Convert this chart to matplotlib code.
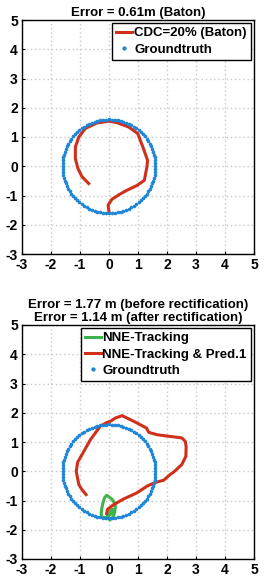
import numpy as np
import matplotlib
matplotlib.use("Agg")
import matplotlib.pyplot as plt

plt.rcParams['font.family'] = ['Liberation Sans', 'DejaVu Sans']
plt.rcParams['font.weight'] = 'bold'
plt.rcParams['axes.unicode_minus'] = False

# Ground truth circle
gt_radius = 1.6
gt_n = 100

# Top panel: CDC=20% (Baton)
baton_x = [0.0, -0.03, 0.1, 0.35, 0.62, 0.96, 1.22, 1.31, 1.33, 1.19, 0.99, 0.68, 0.28, 0.0,
           -0.41, -0.82, -1.04, -1.16, -1.16, -1.07, -0.93, -0.7]
baton_y = [-1.56, -1.33, -1.13, -0.97, -0.82, -0.66, -0.48, 0.0, 0.2, 0.6, 1.12, 1.34, 1.49, 1.54,
           1.48, 1.29, 1.0, 0.66, 0.26, -0.08, -0.36, -0.59]

# Bottom panel: NNE-Tracking & Pred.1
pred_x = [-0.08, -0.05, 0.15, 0.5, 0.96, 1.31, 1.6, 1.88, 2.11, 2.23, 2.51, 2.65, 2.66, 2.63, 2.51,
          2.11, 1.65, 1.37, 1.29, 0.85, 0.45, 0.22, 0.05, -0.07, -0.3, -0.64, -0.93, -1.08, -1.13,
          -1.04, -0.93, -0.79]
pred_y = [-1.44, -1.3, -1.15, -0.95, -0.74, -0.51, -0.38, -0.31, -0.11, -0.03, 0.23, 0.51, 0.85, 1.02,
          1.14, 1.19, 1.25, 1.33, 1.48, 1.71, 1.9, 1.82, 1.71, 1.67, 1.54, 1.08, 0.57, 0.31, 0.0,
          -0.46, -0.63, -0.8]

# Bottom panel: NNE-Tracking
nne_x = [0.0, 0.03, 0.15, 0.2, 0.22, 0.2, 0.1, -0.08, -0.15, -0.2, -0.25, -0.27, -0.25, -0.1,
         0.0, 0.05, 0.12, 0.08, -0.05]
nne_y = [-1.62, -1.67, -1.55, -1.39, -1.2, -1.1, -0.95, -0.82, -0.9, -1.05, -1.27, -1.45, -1.56, -1.6,
         -1.5, -1.35, -1.3, -1.45, -1.55]

ticks = [-3, -2, -1, 0, 1, 2, 3, 4, 5]

red = '#D0301A'
green = '#3CB44B'
blue = '#1F86D8'

W, H = 265, 585
fig = plt.figure(figsize=(W / 100, H / 100), dpi=100)
TFS = 10      # tick labels
LFS = 9.5     # legend
HFS = 9.5     # titles

def style(ax):
    ax.set_xlim(-3, 5)
    ax.set_ylim(-3, 5)
    ax.set_xticks(ticks)
    ax.set_yticks(ticks)
    ax.grid(True, linestyle=(0, (1, 2)), color='#C8C8C8', linewidth=1.0)
    ax.set_axisbelow(True)
    ax.tick_params(direction='in', labelsize=TFS, length=2, width=0.8, pad=3)
    for lab in ax.get_xticklabels() + ax.get_yticklabels():
        lab.set_fontweight('bold')
    for s in ax.spines.values():
        s.set_linewidth(1.0)

th = np.linspace(0, 2 * np.pi, gt_n, endpoint=False)
cx = gt_radius * np.cos(th)
cy = gt_radius * np.sin(th)

legkw = dict(loc='upper right', fontsize=LFS, frameon=True, fancybox=False,
             edgecolor='black', handlelength=1.2, handletextpad=0.15,
             borderpad=0.3, labelspacing=0.3, borderaxespad=0.25, markerscale=1.3,
             framealpha=1.0)

ax1 = fig.add_axes([22 / W, 1 - 254 / H, 232 / W, 234 / H])
style(ax1)
ax1.plot(baton_x, baton_y, color=red, lw=2.2, label='CDC=20% (Baton)')
ax1.plot(cx, cy, '.', color=blue, ms=3.2, label='Groundtruth')
ax1.set_title('Error = 0.61m (Baton)', fontsize=HFS, fontweight='bold', pad=3)
leg1 = ax1.legend(**legkw)
leg1.get_frame().set_linewidth(1.0)

ax2 = fig.add_axes([22 / W, 1 - 559 / H, 232 / W, 234 / H])
style(ax2)
ax2.plot(nne_x, nne_y, color=green, lw=2.2, label='NNE-Tracking')
ax2.plot(pred_x, pred_y, color=red, lw=2.2, label='NNE-Tracking & Pred.1')
ax2.plot(cx, cy, '.', color=blue, ms=3.2, label='Groundtruth')
ax2.set_title('Error = 1.77 m (before rectification)\nError = 1.14 m (after rectification)',
              fontsize=HFS, fontweight='bold', pad=3, linespacing=1.1)
leg2 = ax2.legend(**legkw)
leg2.get_frame().set_linewidth(1.0)

fig.savefig('out.png', dpi=100)
